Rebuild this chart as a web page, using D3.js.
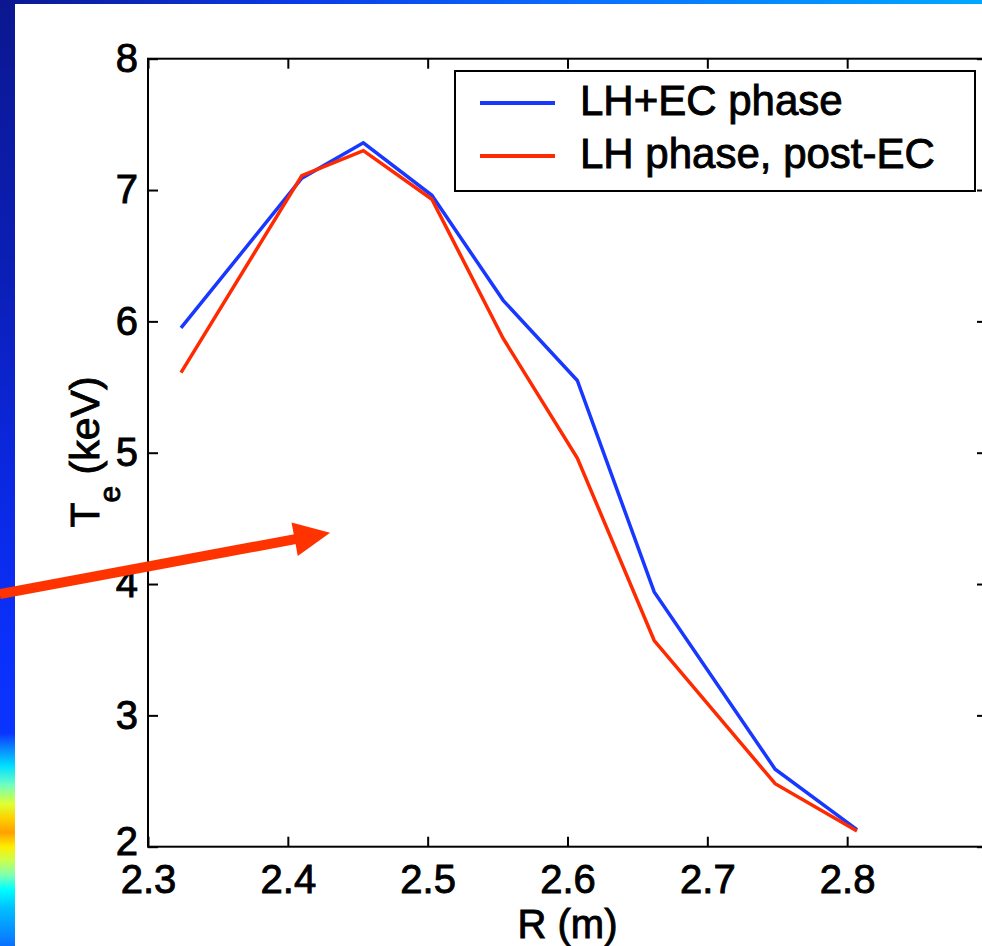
<!DOCTYPE html>
<html>
<head>
<meta charset="utf-8">
<script src="https://cdn.jsdelivr.net/npm/d3@7/dist/d3.min.js"></script>
<style>
  html, body { margin: 0; padding: 0; background: #ffffff; }
  svg { display: block; }
  text { font-family: "Liberation Sans", Arial, Helvetica, sans-serif; fill: #000; stroke: #000; stroke-width: 0.9px; }
</style>
</head>
<body>
<svg id="chart" width="982" height="946"></svg>
<script>
// ---- data ----
const radius = [2.3236, 2.41, 2.454, 2.503, 2.554, 2.607, 2.662, 2.7485, 2.807];
const teLhEc = [5.95, 7.09, 7.36, 6.96, 6.16, 5.55, 3.94, 2.59, 2.13];
const teLhPost = [5.61, 7.11, 7.30, 6.93, 5.87, 4.96, 3.57, 2.48, 2.12];
const seriesNames = ["LH+EC phase", "LH phase, post-EC"];
const seriesColors = ["#1838ff", "#ff2a00"];
const xTicks = [2.3, 2.4, 2.5, 2.6, 2.7, 2.8];
const yTicks = [2, 3, 4, 5, 6, 7, 8];
const xDomain = [2.3, 2.9];
const yDomain = [2, 8];
// arrow annotation (data units): tail, tip
const arrowR = [2.194, 2.4302];
const arrowT = [3.924, 4.391];
// slide background colour strips
const leftStripStops = [
  [0.00, "#0b1790"], [0.30, "#0b1fb8"], [0.50, "#0a28e0"], [0.68, "#0a30fa"],
  [0.775, "#0a35ff"], [0.79, "#0a80ff"], [0.81, "#00e0ff"], [0.83, "#70ffc0"],
  [0.85, "#e0ff30"], [0.865, "#ffd000"], [0.88, "#ffa000"], [0.895, "#ffee00"],
  [0.91, "#c8ff50"], [0.925, "#80ffb0"], [0.94, "#00ffff"], [0.96, "#00c0ff"],
  [1.00, "#0a70ff"]
];
const topStripStops = [[0, "#0b1790"], [0.3, "#0a3ae8"], [0.6, "#0a70ff"], [1, "#00a8ff"]];

// ---- layout ----
const svg = d3.select("#chart");
const W = 982, H = 946;
const plot = { left: 148, top: 58.7, right: 987, bottom: 846.7 };

const defs = svg.append("defs");
const lg = defs.append("linearGradient").attr("id", "leftStrip")
  .attr("x1", 0).attr("y1", 0).attr("x2", 0).attr("y2", 1);
leftStripStops.forEach(s => lg.append("stop").attr("offset", s[0]).attr("stop-color", s[1]));
const tg = defs.append("linearGradient").attr("id", "topStrip")
  .attr("x1", 0).attr("y1", 0).attr("x2", 1).attr("y2", 0);
topStripStops.forEach(s => tg.append("stop").attr("offset", s[0]).attr("stop-color", s[1]));

svg.append("rect").attr("x", 0).attr("y", 0).attr("width", W).attr("height", H).attr("fill", "#fff");
svg.append("rect").attr("x", 0).attr("y", 0).attr("width", W).attr("height", 4).attr("fill", "url(#topStrip)");
svg.append("rect").attr("x", 0).attr("y", 0).attr("width", 15).attr("height", H).attr("fill", "url(#leftStrip)");

const x = d3.scaleLinear().domain(xDomain).range([plot.left, plot.right]);
const y = d3.scaleLinear().domain(yDomain).range([plot.bottom, plot.top]);

const tickLen = 10;
const fontSize = 40;

// bottom axis
const gxb = svg.append("g").attr("transform", `translate(0,${plot.bottom})`)
  .call(d3.axisBottom(x).tickValues(xTicks).tickFormat(d3.format(".1f"))
    .tickSizeInner(-tickLen).tickSizeOuter(0).tickPadding(18));
// top axis (ticks only)
const gxt = svg.append("g").attr("transform", `translate(0,${plot.top})`)
  .call(d3.axisTop(x).tickValues(xTicks).tickFormat("")
    .tickSizeInner(-tickLen).tickSizeOuter(0));
// left axis
const gyl = svg.append("g").attr("transform", `translate(${plot.left},0)`)
  .call(d3.axisLeft(y).tickValues(yTicks).tickFormat(d3.format("d"))
    .tickSizeInner(-tickLen).tickSizeOuter(0).tickPadding(10));
// right axis (ticks only)
const gyr = svg.append("g").attr("transform", `translate(${plot.right},0)`)
  .call(d3.axisRight(y).tickValues(yTicks).tickFormat("")
    .tickSizeInner(-tickLen).tickSizeOuter(0));

[gxb, gxt, gyl, gyr].forEach(g => {
  g.select(".domain").remove();
  g.selectAll(".tick line").attr("stroke", "#000").attr("stroke-width", 2);
  g.selectAll(".tick text").attr("font-size", fontSize)
    .style("font-family", '"Liberation Sans", Arial, Helvetica, sans-serif')
    .attr("fill", "#000").attr("stroke", "#000").attr("stroke-width", 0.9);
});
// lowest y label sits just above the x labels, as in the reference
gyl.selectAll(".tick text").filter(d => d === yDomain[0]).attr("dy", "0.2em");

// plot box
svg.append("rect")
  .attr("x", plot.left).attr("y", plot.top)
  .attr("width", plot.right - plot.left).attr("height", plot.bottom - plot.top)
  .attr("fill", "none").attr("stroke", "#000").attr("stroke-width", 2);

// data lines
const line = d3.line().x(d => x(d[0])).y(d => y(d[1]));
const series = [teLhEc, teLhPost];
series.forEach((vals, i) => {
  svg.append("path")
    .datum(radius.map((r, j) => [r, vals[j]]))
    .attr("d", line)
    .attr("fill", "none")
    .attr("stroke", seriesColors[i])
    .attr("stroke-width", 3.5)
    .attr("stroke-linejoin", "miter");
});

// legend
const leg = { x: 455, y: 71, w: 520, h: 120 };
svg.append("rect").attr("x", leg.x).attr("y", leg.y).attr("width", leg.w).attr("height", leg.h)
  .attr("fill", "#fff").attr("stroke", "#000").attr("stroke-width", 2);
const legRowY = [103, 156];
const legBase = [115, 168];
seriesNames.forEach((name, i) => {
  svg.append("line").attr("x1", leg.x + 25).attr("x2", leg.x + 100)
    .attr("y1", legRowY[i]).attr("y2", legRowY[i])
    .attr("stroke", seriesColors[i]).attr("stroke-width", 4);
  svg.append("text").attr("x", leg.x + 125).attr("y", legBase[i])
    .attr("font-size", 42).text(name);
});

// axis labels
svg.append("text")
  .attr("x", (plot.left + plot.right) / 2).attr("y", 938)
  .attr("text-anchor", "middle").attr("font-size", fontSize)
  .text("R (m)");

const yl = svg.append("text")
  .attr("transform", "translate(99,452) rotate(-90)")
  .attr("text-anchor", "middle").attr("font-size", 41);
yl.append("tspan").text("T");
yl.append("tspan").attr("font-size", 30).attr("dy", 21).text("e");
yl.append("tspan").attr("dy", -21).text(" (keV)");

// arrow annotation
const ax0 = x(arrowR[0]), ay0 = y(arrowT[0]);
const ax1 = x(arrowR[1]), ay1 = y(arrowT[1]);
const ang = Math.atan2(ay1 - ay0, ax1 - ax0);
const headLen = 36, headHalf = 17;
const bx = ax1 - headLen * Math.cos(ang), by = ay1 - headLen * Math.sin(ang);
const arrowColor = "#ff3300";
svg.append("line").attr("x1", ax0).attr("y1", ay0).attr("x2", bx + 2 * Math.cos(ang)).attr("y2", by + 2 * Math.sin(ang))
  .attr("stroke", arrowColor).attr("stroke-width", 10);
const px = -Math.sin(ang), py = Math.cos(ang);
svg.append("polygon")
  .attr("points", [
    [ax1, ay1],
    [bx + headHalf * px, by + headHalf * py],
    [bx - headHalf * px, by - headHalf * py]
  ].map(p => p.join(",")).join(" "))
  .attr("fill", arrowColor);
</script>
</body>
</html>
